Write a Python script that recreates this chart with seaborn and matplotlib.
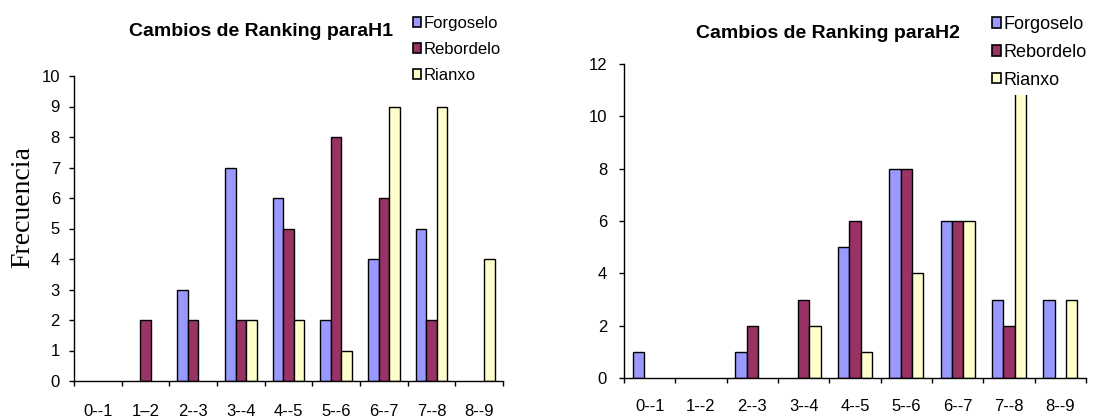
import numpy as np
import pandas as pd
import matplotlib
matplotlib.use("Agg")
import matplotlib.pyplot as plt
from matplotlib.patches import Patch
import seaborn as sns

# Rank-change intervals
rangos_h1 = ["0--1", "1\u20132", "2--3", "3--4", "4--5", "5--6", "6--7", "7--8", "8--9"]
rangos_h2 = ["0--1", "1--2", "2--3", "3--4", "4--5", "5--6", "6--7", "7--8", "8--9"]
sitios = ["Forgoselo", "Rebordelo", "Rianxo"]

# Frequencies per site, hypothesis H1
h1_forgoselo = [0, 0, 3, 7, 6, 2, 4, 5, 0]
h1_rebordelo = [0, 2, 2, 2, 5, 8, 6, 2, 0]
h1_rianxo = [0, 0, 0, 2, 2, 1, 9, 9, 4]

# Frequencies per site, hypothesis H2
h2_forgoselo = [1, 0, 1, 0, 5, 8, 6, 3, 3]
h2_rebordelo = [0, 0, 2, 3, 6, 8, 6, 2, 0]
h2_rianxo = [0, 0, 0, 2, 1, 4, 6, 11, 3]

colores = ["#9999FF", "#993366", "#FFFFCC"]

sns.set_style("ticks")
plt.rcParams["font.family"] = ["Liberation Sans", "DejaVu Sans"]
plt.rcParams["text.color"] = "black"
plt.rcParams["xtick.color"] = "black"
plt.rcParams["ytick.color"] = "black"
plt.rcParams["xtick.labelcolor"] = "black"
plt.rcParams["ytick.labelcolor"] = "black"


def tabla(rangos, series):
    filas = []
    for sitio, valores in zip(sitios, series):
        for r, v in zip(rangos, valores):
            filas.append({"rango": r, "sitio": sitio, "freq": v})
    return pd.DataFrame(filas)


df1 = tabla(rangos_h1, [h1_forgoselo, h1_rebordelo, h1_rianxo])
df2 = tabla(rangos_h2, [h2_forgoselo, h2_rebordelo, h2_rianxo])

W, H = 1115, 417
fig = plt.figure(figsize=(W / 100, H / 100), dpi=100)


def px_axes(x0, y0, x1, y1):
    return fig.add_axes([x0 / W, 1 - y1 / H, (x1 - x0) / W, (y1 - y0) / H])


ax1 = px_axes(74, 76, 503, 381)
ax2 = px_axes(624, 64, 1086, 378)


def dibujar(ax, df, rangos, ymax, ystep, xpad, ypad, leg_x, leg_top, leg_fs, leg_sp):
    sns.barplot(data=df, x="rango", y="freq", hue="sitio", order=rangos,
                hue_order=sitios, palette=colores, width=0.667, gap=0,
                edgecolor="black", linewidth=1, saturation=1, ax=ax, legend=False)
    # empty categories get no visible bar
    for p in ax.patches:
        if p.get_height() == 0:
            p.set_visible(False)
    n = len(rangos)
    ax.set_xlim(-0.5, n - 0.5)
    ax.set_ylim(0, ymax)
    ax.set_yticks(np.arange(0, ymax + 1, ystep))
    ax.set_xticks(np.arange(n))
    ax.set_xticklabels(rangos, fontsize=12)
    ax.set_xticks(np.arange(n + 1) - 0.5, minor=True)
    ax.tick_params(axis="x", which="major", length=0, pad=xpad)
    ax.tick_params(axis="x", which="minor", length=3.6, width=1, direction="out", color="black")
    ax.tick_params(axis="y", length=3.6, width=1, pad=ypad, labelsize=12, color="black")
    ax.set_xlabel("")
    ax.set_ylabel("")
    sns.despine(ax=ax)
    for s in ("left", "bottom"):
        ax.spines[s].set_color("black")
        ax.spines[s].set_linewidth(1)
    handles = [Patch(facecolor=c, edgecolor="black", linewidth=1.2, label=s)
               for c, s in zip(colores, sitios)]
    leg = ax.legend(handles=handles, loc="upper left",
                    bbox_to_anchor=(leg_x / W, 1 - leg_top / H),
                    bbox_transform=fig.transFigure, fontsize=leg_fs,
                    handlelength=0.5, handleheight=0.5, handletextpad=0.15,
                    labelspacing=leg_sp, borderpad=0, borderaxespad=0,
                    frameon=True, framealpha=1, facecolor="white",
                    edgecolor="none", fancybox=False)
    leg.get_frame().set_boxstyle("square", pad=0.35)
    leg.set_zorder(10)


dibujar(ax1, df1, rangos_h1, 10, 1, 16.5, 6.5, 413, 16, 12, 0.65)
dibujar(ax2, df2, rangos_h2, 12, 2, 15, 8.6, 992, 16, 13, 0.6)

fig.text(261 / W, 1 - 32 / H, "Cambios de Ranking paraH1", ha="center", va="center",
         fontsize=14, fontweight="bold")
fig.text(828 / W, 1 - 33 / H, "Cambios de Ranking paraH2", ha="center", va="center",
         fontsize=14, fontweight="bold")
fig.text(23 / W, 1 - 207 / H, "Frecuencia", ha="center", va="center", rotation=90,
         fontsize=20, family=["Liberation Serif", "DejaVu Serif"])

fig.savefig("out.png", dpi=100)
